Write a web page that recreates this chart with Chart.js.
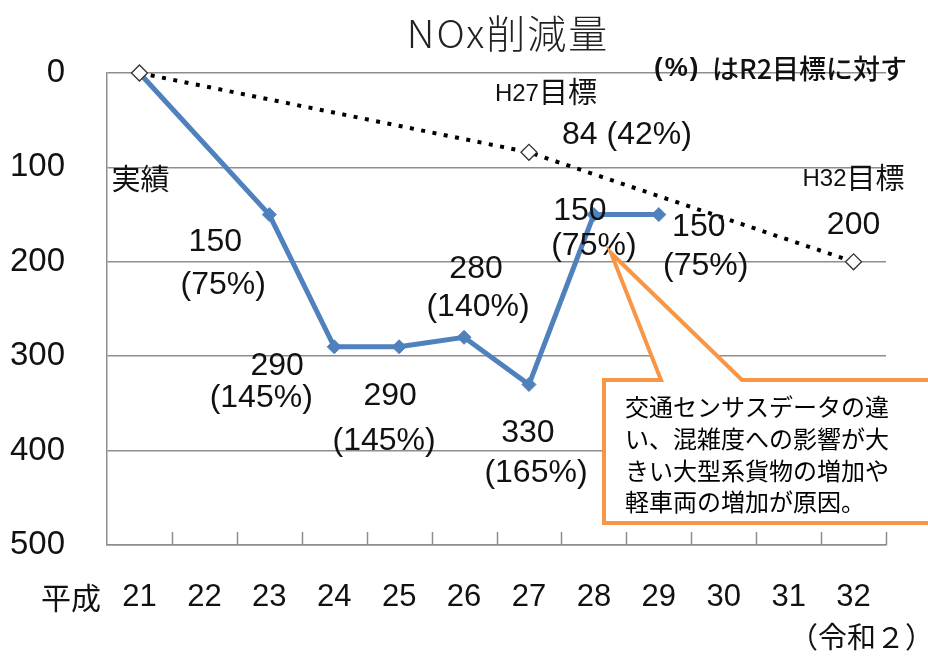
<!DOCTYPE html>
<html>
<head>
<meta charset="utf-8">
<script src="https://cdn.jsdelivr.net/npm/chart.js@4.4.1/dist/chart.umd.min.js"></script>
<style>
html,body{margin:0;padding:0;background:#fff;}
#wrap{width:928px;height:657px;position:relative;overflow:hidden;}
</style>
</head>
<body>
<div id="wrap"><canvas id="c" width="928" height="657"></canvas></div>
<script>
// ---------- data ----------
const categories = ['21','22','23','24','25','26','27','28','29','30','31','32'];
const actualValues = [0, null, 150, 290, 290, 280, 330, 150, 150, null, null, null];
const targetValues = [0, null, null, null, null, null, 84, null, null, null, null, 200];
const yTickValues = [0, 100, 200, 300, 400, 500];
const r2Target = 200;
const titleText = 'NOx削減量';
const notePrefix = '(%)';
const noteText = 'はR2目標に対す';
const xPrefix = '平成';
const xSuffix = '（令和２）';
const actualName = '実績';
const calloutLines = ['交通センサスデータの違', 'い、混雑度への影響が大', 'きい大型系貨物の増加や', '軽車両の増加が原因。'];

// ---------- label placement (pixel offsets from each point) ----------
const actualLabelOffsets = {
  2: [[-54, 28], [-46, 71]],
  3: [[-57, 19], [-73, 51]],
  4: [[-9, 49], [-15, 94]],
  5: [[12, -68], [14, -30]],
  6: [[-1, 49], [7, 89]],
  7: [[-14, -3], [0, 32]],
  8: [[40, 13], [47, 52]]
};

const NUM_FONT = "'Liberation Sans', Arial, sans-serif";
const JP_FONT = "'Noto Sans CJK JP', sans-serif";
const GRID = '#8e8e8e';
const BLUE = '#4F81BD';
const ORANGE = '#F79646';

function pct(v) { return Math.round(v / r2Target * 100) + '%'; }

function text(ctx, s, x, y, font, align) {
  ctx.font = font;
  ctx.textAlign = align || 'center';
  ctx.textBaseline = 'middle';
  ctx.fillText(s, x, y);
}

function mixed(ctx, parts, cx, cy) {
  let total = 0;
  parts.forEach(p => { ctx.font = p[1]; p.w = ctx.measureText(p[0]).width; total += p.w; });
  let x = cx - total / 2;
  parts.forEach(p => { ctx.font = p[1]; ctx.textAlign = 'left'; ctx.textBaseline = 'middle'; ctx.fillText(p[0], x, cy + (p[2] || 0)); x += p.w; });
}

const annotate = {
  id: 'annotate',
  beforeDatasetsDraw(chart) {
    const ctx = chart.ctx, xs = chart.scales.x, area = chart.chartArea;
    ctx.save();
    ctx.strokeStyle = GRID; ctx.lineWidth = 1.5;
    for (let i = 0; i < categories.length; i++) {
      const x = Math.round(xs.getPixelForValue(i + 0.5)) + 0.5;
      ctx.beginPath(); ctx.moveTo(x, area.bottom); ctx.lineTo(x, area.bottom - 13); ctx.stroke();
    }
    ctx.restore();
  },
  afterDatasetsDraw(chart) {
    const ctx = chart.ctx;
    const act = chart.getDatasetMeta(0).data;
    const tgt = chart.getDatasetMeta(1).data;
    ctx.save();

    // title
    ctx.fillStyle = '#222';
    if ('letterSpacing' in ctx) ctx.letterSpacing = '2px';
    text(ctx, titleText, 508, 33, "300 39px " + JP_FONT);
    // note
    ctx.fillStyle = '#111';
    if ('letterSpacing' in ctx) ctx.letterSpacing = '2px';
    text(ctx, notePrefix, 654, 69, "bold 26px " + NUM_FONT, 'left');
    if ('letterSpacing' in ctx) ctx.letterSpacing = '0px';
    text(ctx, noteText, 712, 69, "500 27px " + JP_FONT, 'left');

    // actual series labels
    Object.keys(actualLabelOffsets).forEach(k => {
      const i = +k, p = act[i], o = actualLabelOffsets[k], v = actualValues[i];
      text(ctx, String(v), p.x + o[0][0], p.y + o[0][1], "32px " + NUM_FONT);
      text(ctx, '(' + pct(v) + ')', p.x + o[1][0], p.y + o[1][1], "32px " + NUM_FONT);
    });
    // series name near first point
    text(ctx, actualName, act[0].x - 28, act[0].y + 106, "29px " + JP_FONT, 'left');

    // target labels
    const t27 = tgt[6], t32 = tgt[11];
    mixed(ctx, [['H' + categories[6], "24px " + NUM_FONT, 2], ['目標', "29px " + JP_FONT]], t27.x + 17, t27.y - 60);
    text(ctx, targetValues[6] + ' (' + pct(targetValues[6]) + ')', t27.x + 98, t27.y - 17, "32px " + NUM_FONT);
    mixed(ctx, [['H' + categories[11], "24px " + NUM_FONT, 2], ['目標', "29px " + JP_FONT]], t32.x, t32.y - 84);
    text(ctx, String(targetValues[11]), t32.x, t32.y - 37, "32px " + NUM_FONT);

    // callout
    ctx.beginPath();
    ctx.moveTo(604, 380); ctx.lineTo(661, 380); ctx.lineTo(611, 253); ctx.lineTo(742, 380);
    ctx.lineTo(940, 380); ctx.lineTo(940, 523); ctx.lineTo(604, 523); ctx.closePath();
    ctx.fillStyle = '#fff'; ctx.fill();
    ctx.strokeStyle = ORANGE; ctx.lineWidth = 4; ctx.lineJoin = 'miter'; ctx.stroke();
    ctx.fillStyle = '#000';
    calloutLines.forEach((l, i) => text(ctx, l, 625, 407 + i * 31.7, "24px " + JP_FONT, 'left'));

    // axis prefix / suffix
    ctx.fillStyle = '#111';
    text(ctx, xPrefix, 71, 598, "30px " + JP_FONT);
    text(ctx, xSuffix, 789, 637, "29px " + JP_FONT, 'left');
    ctx.restore();
  }
};

new Chart(document.getElementById('c'), {
  type: 'line',
  data: {
    labels: categories,
    datasets: [
      {
        label: actualName,
        data: actualValues,
        borderColor: BLUE,
        backgroundColor: BLUE,
        borderWidth: 5,
        pointStyle: 'rectRot',
        pointRadius: 7,
        pointBackgroundColor: BLUE,
        pointBorderColor: BLUE,
        pointBorderWidth: 1,
        spanGaps: true,
        tension: 0,
        clip: false,
        order: 2
      },
      {
        label: '目標',
        data: targetValues,
        borderColor: '#000',
        borderWidth: 4,
        borderDash: [4, 7.5],
        pointStyle: 'rectRot',
        pointRadius: 8,
        pointBackgroundColor: '#fff',
        pointBorderColor: '#333',
        pointBorderWidth: 1.3,
        spanGaps: true,
        tension: 0,
        clip: false,
        order: 1
      }
    ]
  },
  options: {
    responsive: false,
    animation: false,
    devicePixelRatio: 1,
    layout: { padding: { top: 73, right: 42, left: 0, bottom: 0 } },
    plugins: { legend: { display: false }, tooltip: { enabled: false }, title: { display: false } },
    scales: {
      x: {
        offset: true,
        grid: { display: false, drawTicks: false },
        border: { display: true, color: GRID, width: 1.5 },
        ticks: { color: '#111', font: { family: NUM_FONT, size: 31, lineHeight: 1 }, padding: 37, maxRotation: 0, autoSkip: false },
        afterFit(s) { s.height = 112; }
      },
      y: {
        reverse: true,
        min: yTickValues[0],
        max: yTickValues[yTickValues.length - 1],
        afterBuildTicks(s) { s.ticks = yTickValues.map(v => ({ value: v })); },
        grid: { color: GRID, lineWidth: 1.5, drawTicks: false },
        border: { display: true, color: GRID, width: 1.5 },
        ticks: { color: '#111', font: { family: NUM_FONT, size: 33, lineHeight: 1 }, padding: 42 },
        afterFit(s) { s.width = 107; }
      }
    }
  },
  plugins: [annotate]
});
</script>
</body>
</html>
